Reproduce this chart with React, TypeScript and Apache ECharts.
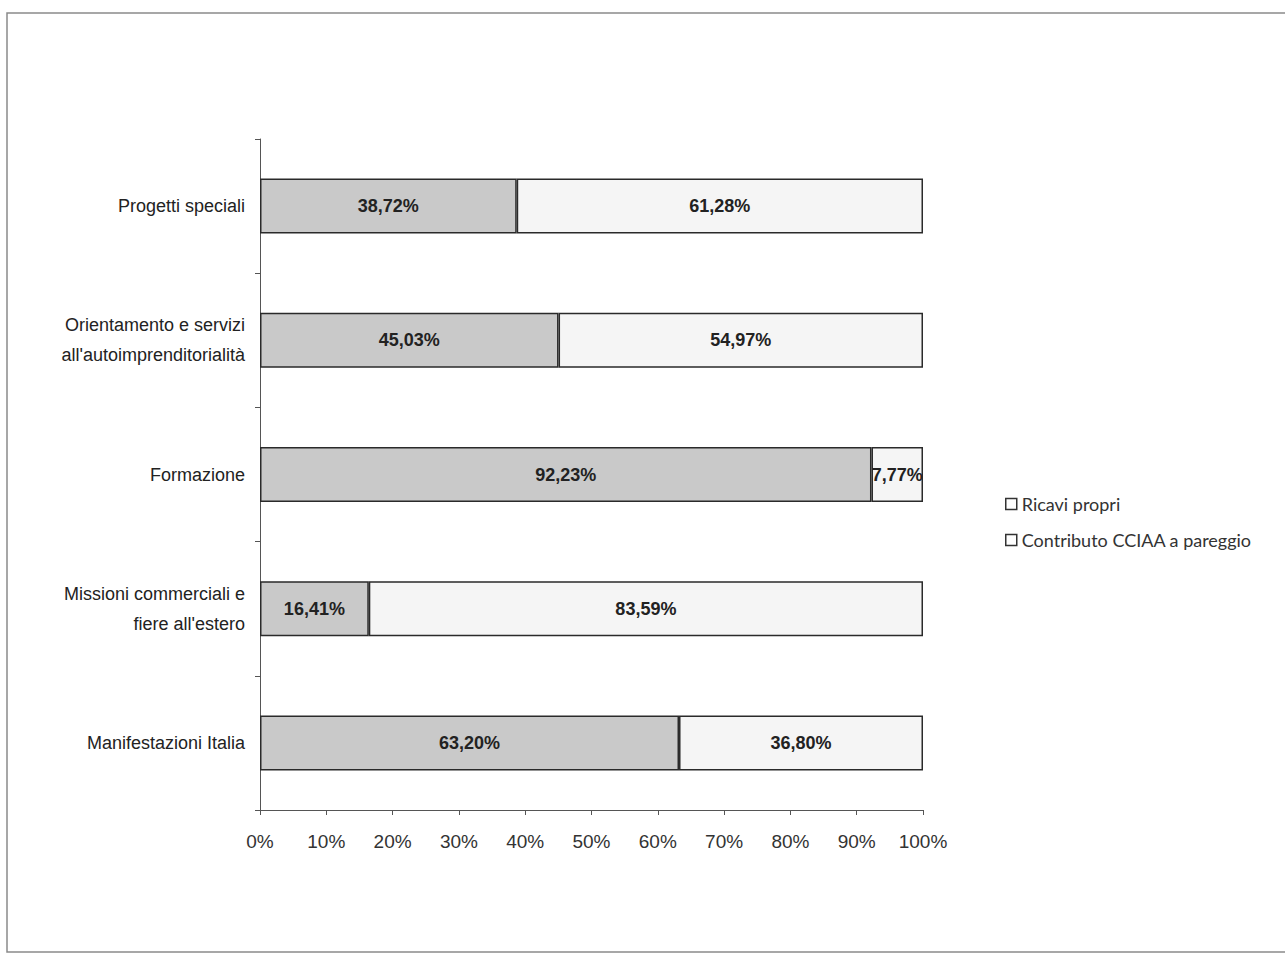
import React, { useEffect, useRef } from "react";
import * as echarts from "echarts";

const categories = [
  "Progetti speciali",
  "Orientamento e servizi\nall'autoimprenditorialità",
  "Formazione",
  "Missioni commerciali e\nfiere all'estero",
  "Manifestazioni Italia",
];
const ricaviPropri = [38.72, 45.03, 92.23, 16.41, 63.2];
const contributoCCIAA = [61.28, 54.97, 7.77, 83.59, 36.8];
const seriesNames = ["Ricavi propri", "Contributo CCIAA a pareggio"];

const fmt = (v: number) => v.toFixed(2).replace(".", ",") + "%";

export default function App() {
  const ref = useRef<HTMLDivElement>(null);
  useEffect(() => {
    const chart = echarts.init(ref.current!, null, { renderer: "svg" });
    const labelStyle = {
      show: true,
      position: "inside" as const,
      color: "#222",
      fontWeight: "bold" as const,
      fontSize: 18,
      fontFamily: "Liberation Sans, Arial, sans-serif",
      formatter: (p: any) => fmt(p.value),
    };
    chart.setOption({
      animation: false,
      backgroundColor: "#fff",
      graphic: [
        {
          type: "rect",
          shape: { x: 7, y: 13, width: 1300, height: 939 },
          style: { fill: "none", stroke: "#8a8a8a", lineWidth: 1.5 },
          silent: true,
        },
      ],
      grid: { left: 260, right: 362, top: 139, bottom: 146 },
      legend: {
        orient: "vertical",
        left: 1000,
        top: 490,
        itemWidth: 11,
        itemHeight: 11,
        itemGap: 18,
        icon: "rect",
        textStyle: { fontSize: 18, color: "#333", fontFamily: "Lato, Open Sans, sans-serif" },
        data: seriesNames.map((n) => ({
          name: n,
          itemStyle: { color: "#fff", borderColor: "#333", borderWidth: 1.5 },
        })),
      },
      xAxis: {
        type: "value",
        min: 0,
        max: 100,
        interval: 10,
        splitLine: { show: false },
        axisLine: { show: true, lineStyle: { color: "#555" } },
        axisTick: { show: true, length: 5, lineStyle: { color: "#555" } },
        axisLabel: {
          formatter: (v: number) => v + "%",
          fontSize: 19,
          color: "#333",
          margin: 22,
          fontFamily: "Liberation Sans, Arial, sans-serif",
        },
      },
      yAxis: {
        type: "category",
        data: categories,
        inverse: true,
        axisLine: { show: true, lineStyle: { color: "#555" } },
        axisTick: { show: true, length: 5, lineStyle: { color: "#555" } },
        axisLabel: {
          fontSize: 18,
          color: "#222",
          margin: 15,
          lineHeight: 30,
          align: "right",
          fontFamily: "Liberation Sans, Arial, sans-serif",
        },
      },
      series: [
        {
          name: seriesNames[0],
          type: "bar",
          stack: "total",
          barWidth: "41%",
          data: ricaviPropri,
          itemStyle: { color: "#c9c9c9", borderColor: "#2a2a2a", borderWidth: 1.5 },
          label: labelStyle,
        },
        {
          name: seriesNames[1],
          type: "bar",
          stack: "total",
          barWidth: "41%",
          data: contributoCCIAA,
          itemStyle: { color: "#f5f5f5", borderColor: "#2a2a2a", borderWidth: 1.5 },
          label: labelStyle,
        },
      ],
    });
    return () => chart.dispose();
  }, []);
  return (
    <div
      ref={ref}
      style={{ position: "absolute", left: 0, top: 0, width: 1285, height: 956 }}
    />
  );
}
